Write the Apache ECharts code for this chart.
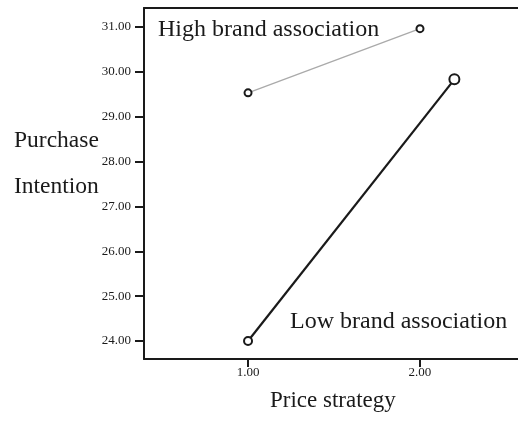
<!DOCTYPE html>
<html>
<head>
<meta charset="utf-8">
<script src="https://cdn.jsdelivr.net/npm/echarts@6/dist/echarts.min.js"></script>
<style>
  html, body { margin: 0; padding: 0; background: #fff; }
  #chart { width: 518px; height: 424px; }
</style>
</head>
<body>
<div id="chart"></div>
<script>
// values
const xTicks = [1, 2];
const yTicks = [24, 25, 26, 27, 28, 29, 30, 31];
const highX = [1, 2];
const highY = [29.53, 30.96];
const lowX = [1, 2.2];
const lowY = [24.0, 29.83];

const serif = "'Liberation Serif', 'DejaVu Serif', serif";
const ink = "#1a1a1a";

function pairs(xs, ys) {
  return xs.map((x, i) => [x, ys[i]]);
}

const myChart = echarts.init(document.getElementById("chart"));
const option = {
  animation: false,
  grid: { left: 144, top: 8, right: 0, bottom: 65 },
  xAxis: [
    {
      type: "value",
      min: 0.395,
      max: 2.57,
      splitLine: { show: false },
      axisLine: { lineStyle: { color: ink, width: 2 } },
      axisTick: { customValues: xTicks, length: 8, lineStyle: { color: ink, width: 2 } },
      axisLabel: {
        customValues: xTicks,
        formatter: v => v.toFixed(2),
        color: ink,
        fontFamily: serif,
        fontSize: 13,
        margin: 7
      }
    },
    {
      type: "value",
      position: "top",
      min: 0.395,
      max: 2.57,
      splitLine: { show: false },
      axisLine: { lineStyle: { color: ink, width: 2 } },
      axisTick: { show: false },
      axisLabel: { show: false }
    }
  ],
  yAxis: {
    type: "value",
    min: 23.6,
    max: 31.42,
    splitLine: { show: false },
    axisLine: { show: true, lineStyle: { color: ink, width: 2 } },
    axisTick: { show: true, customValues: yTicks, length: 9, lineStyle: { color: ink, width: 2 } },
    axisLabel: {
      customValues: yTicks,
      formatter: v => v.toFixed(2),
      color: ink,
      fontFamily: serif,
      fontSize: 13,
      margin: 13
    }
  },
  series: [
    {
      name: "High brand association",
      type: "line",
      data: pairs(highX, highY),
      symbol: "emptyCircle",
      symbolSize: 7,
      showSymbol: true,
      lineStyle: { color: "#aaaaaa", width: 1.3 },
      itemStyle: { color: ink, borderColor: ink, borderWidth: 1.6 }
    },
    {
      name: "Low brand association",
      type: "line",
      data: pairs(lowX, lowY).map((p, i) => ({
        value: p,
        symbolSize: i === 1 ? 10 : 8,
        itemStyle: { borderWidth: i === 1 ? 2.4 : 1.8 }
      })),
      symbol: "emptyCircle",
      showSymbol: true,
      lineStyle: { color: ink, width: 2.2 },
      itemStyle: { color: ink, borderColor: ink }
    }
  ],
  graphic: [
    { type: "text", left: 14, top: 129, style: { text: "Purchase", font: "23.5px " + serif, fill: ink } },
    { type: "text", left: 14, top: 175, style: { text: "Intention", font: "23.5px " + serif, fill: ink } },
    { type: "text", left: 158, top: 18, style: { text: "High brand association", font: "24px " + serif, fill: ink } },
    { type: "text", left: 290, top: 310, style: { text: "Low brand association", font: "24px " + serif, fill: ink } },
    { type: "text", left: 270, top: 389, style: { text: "Price strategy", font: "23px " + serif, fill: ink } }
  ]
};
myChart.setOption(option);
window.addEventListener("resize", function() {
  myChart.resize();
});
</script>
</body>
</html>
